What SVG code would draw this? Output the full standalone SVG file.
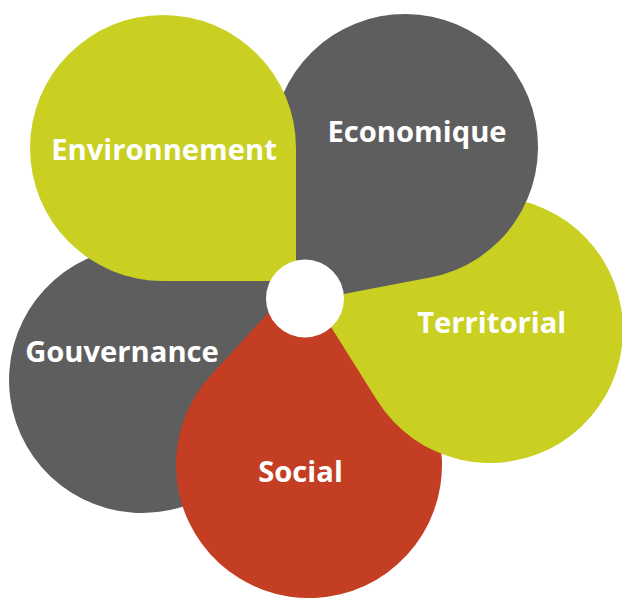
<svg xmlns="http://www.w3.org/2000/svg" width="622" height="599" viewBox="0 0 622 599">
<style>
.g{fill:#5e5e5e}.y{fill:#c9d021}.r{fill:#c33e23}
text{font-family:"Open Sans","Liberation Sans",sans-serif;font-weight:bold;font-size:29.2px;fill:#ffffff;text-anchor:middle}
</style>
<rect width="622" height="599" fill="#ffffff"/>
<g id="gouvernance">
<path class="g" d="M304.9,286 L270.5,414.4 A133,133 0 1 1 176.4,251.5 Z"/>
<text x="122" y="361.5">Gouvernance</text>
</g>
<g id="social">
<path class="r" d="M301.1,277.1 L399,367.1 A133,133 0 1 1 211.1,375 Z"/>
<text x="300.5" y="481.5">Social</text>
</g>
<g id="territorial">
<path class="y" d="M306.6,288 L419.3,217.3 A133,133 0 1 1 377.3,400.7 Z"/>
<text x="491.7" y="332.8">Territorial</text>
</g>
<g id="economique">
<path class="g" d="M299.3,302.6 L274.4,171.9 A133,133 0 1 1 429.9,277.6 Z"/>
<text x="417" y="142">Economique</text>
</g>
<g id="environnement">
<path class="y" d="M296,148 L296,281 L163,281 A133,133 0 1 1 296,148 Z"/>
<text x="164" y="159.5">Environnement</text>
</g>
<g id="centre">
<circle cx="305" cy="298.5" r="39" fill="#ffffff"/>
</g>
</svg>
